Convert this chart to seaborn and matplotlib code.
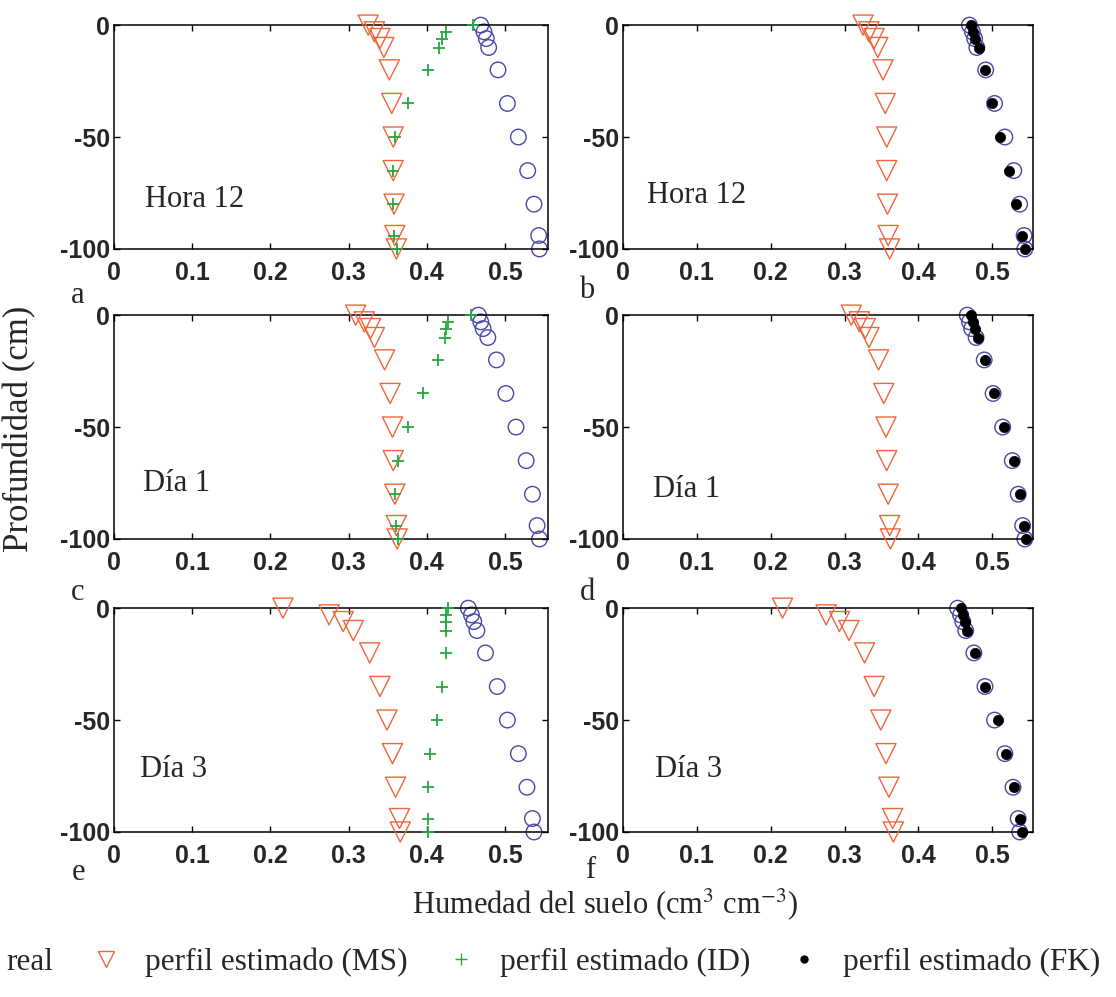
import numpy as np
import pandas as pd
import matplotlib
matplotlib.use('Agg')
import matplotlib.pyplot as plt
from matplotlib.lines import Line2D
import seaborn as sns

# profundidades (cm)
depth = [0, -3, -6, -10, -20, -35, -50, -65, -80, -94, -100]

# Hora 12
real_1 = [0.469, 0.473, 0.476, 0.479, 0.491, 0.503, 0.517, 0.529, 0.537, 0.543, 0.544]
ms_1 = [0.325, 0.333, 0.340, 0.345, 0.352, 0.355, 0.357, 0.357, 0.358, 0.359, 0.361]
id_1 = [0.459, 0.425, 0.420, 0.416, 0.401, 0.376, 0.359, 0.357, 0.357, 0.358, 0.362]
fk_1 = [0.471, 0.474, 0.477, 0.482, 0.490, 0.500, 0.511, 0.523, 0.532, 0.540, 0.544]

# Dia 1
real_2 = [0.466, 0.469, 0.472, 0.478, 0.489, 0.501, 0.514, 0.527, 0.535, 0.541, 0.544]
ms_2 = [0.309, 0.320, 0.328, 0.333, 0.346, 0.353, 0.356, 0.357, 0.359, 0.361, 0.362]
id_2 = [0.457, 0.427, 0.425, 0.423, 0.414, 0.395, 0.376, 0.363, 0.359, 0.361, 0.363]
fk_2 = [0.471, 0.474, 0.477, 0.480, 0.490, 0.502, 0.516, 0.529, 0.537, 0.543, 0.546]

# Dia 3
real_3 = [0.453, 0.457, 0.460, 0.464, 0.475, 0.490, 0.503, 0.517, 0.528, 0.535, 0.537]
ms_3 = [0.216, 0.275, 0.293, 0.306, 0.327, 0.340, 0.349, 0.356, 0.360, 0.365, 0.366]
id_3 = [0.427, 0.425, 0.425, 0.425, 0.425, 0.420, 0.413, 0.404, 0.401, 0.401, 0.402]
fk_3 = [0.457, 0.460, 0.463, 0.466, 0.477, 0.490, 0.507, 0.519, 0.529, 0.537, 0.540]

periodos = ['Hora 12', 'Día 1', 'Día 3']
letras = [('a', 'b'), ('c', 'd'), ('e', 'f')]
xticks = [0, 0.1, 0.2, 0.3, 0.4, 0.5]
yticks = [-100, -50, 0]

rows = [(real_1, ms_1, id_1, fk_1), (real_2, ms_2, id_2, fk_2), (real_3, ms_3, id_3, fk_3)]

c_real = '#4848a8'
c_ms = '#f0653a'
c_id = '#24a83e'
c_fk = '#000000'

sns.set_theme(style='white')
plt.rcParams['font.family'] = ['Liberation Serif', 'DejaVu Serif']
plt.rcParams['mathtext.fontset'] = 'stix'

fig = plt.figure(figsize=(11.16, 9.97), dpi=100)

lefts = [0.1022, 0.5582]
widths = [0.3889, 0.3674]
bottoms = [0.7503, 0.4594, 0.1655]
h = 0.2245
# posiciones del texto de cada panel (x, y en datos)
txt_pos = [[(0.040, -78), (0.032, -76)],
           [(0.037, -75), (0.041, -78)],
           [(0.033, -72), (0.043, -72)]]
let_pos = [[(0.070, 0.704), (0.526, 0.709)],
           [(0.070, 0.406), (0.526, 0.406)],
           [(0.070, 0.125), (0.529, 0.127)]]

for i, (real, ms, idw, fk) in enumerate(rows):
    df = pd.DataFrame({'depth': depth, 'real': real, 'MS': ms, 'ID': idw, 'FK': fk})
    for j in range(2):
        ax = fig.add_axes([lefts[j], bottoms[i], widths[j], h])
        sns.scatterplot(data=df, x='real', y='depth', ax=ax, marker='o', s=125,
                        facecolor='none', edgecolor=c_real, linewidth=1.0,
                        clip_on=False, zorder=2)
        sns.scatterplot(data=df, x='MS', y='depth', ax=ax, marker='v', s=210,
                        facecolor='none', edgecolor=c_ms, linewidth=1.0,
                        clip_on=False, zorder=3)
        if j == 0:
            sns.scatterplot(data=df, x='ID', y='depth', ax=ax, marker='+', s=70,
                            color=c_id, linewidth=1.3, clip_on=False, zorder=4)
        else:
            sns.scatterplot(data=df, x='FK', y='depth', ax=ax, marker='o', s=55,
                            color=c_fk, edgecolor=c_fk, linewidth=0.5,
                            clip_on=False, zorder=4)
        ax.set_xlim(0, 0.555)
        ax.set_ylim(-100, 0)
        ax.set_xticks(xticks)
        ax.set_xticklabels(['0', '0.1', '0.2', '0.3', '0.4', '0.5'])
        ax.set_yticks(yticks)
        ax.set_yticklabels(['-100', '-50', '0'])
        ax.set_xlabel('')
        ax.set_ylabel('')
        ax.tick_params(axis='both', direction='in', length=4, width=1,
                       top=True, right=True, bottom=True, left=True, color='black')
        ax.tick_params(axis='x', pad=9)
        ax.tick_params(axis='y', pad=3)
        for lab in ax.get_xticklabels() + ax.get_yticklabels():
            lab.set_family(['Liberation Sans', 'DejaVu Sans'])
            lab.set_fontsize(18)
            lab.set_fontweight('bold')
        for sp in ax.spines.values():
            sp.set_color('black')
            sp.set_linewidth(1.1)
        tx, ty = txt_pos[i][j]
        ax.text(tx, ty, periodos[i], fontsize=22, va='center', ha='left')
        lx, ly = let_pos[i][j]
        fig.text(lx, ly, letras[i][j], fontsize=22, ha='center', va='center')

fig.text(0.018, 0.57, 'Profundidad (cm)', rotation=90, fontsize=25,
         ha='center', va='center')
fig.text(0.542, 0.093, r'Humedad del suelo (cm$^{3}$ cm$^{-3}$)', fontsize=22,
         ha='center', va='center')

handles = [
    Line2D([], [], linestyle='none', marker='o', markersize=11,
           markerfacecolor='none', markeredgecolor=c_real),
    Line2D([], [], linestyle='none', marker='v', markersize=11,
           markerfacecolor='none', markeredgecolor=c_ms),
    Line2D([], [], linestyle='none', marker='+', markersize=8,
           markeredgecolor=c_id),
    Line2D([], [], linestyle='none', marker='o', markersize=5,
           markerfacecolor=c_fk, markeredgecolor=c_fk),
]
labels = ['real', 'perfil estimado (MS)', 'perfil estimado (ID)', 'perfil estimado (FK)']
fig.legend(handles, labels, loc='center left', bbox_to_anchor=(-0.042, 0.035),
           ncol=4, frameon=False, fontsize=22.5, handlelength=0.9,
           handletextpad=0.8, columnspacing=1.25, borderpad=0, borderaxespad=0)

fig.savefig('out.png', dpi=100)
